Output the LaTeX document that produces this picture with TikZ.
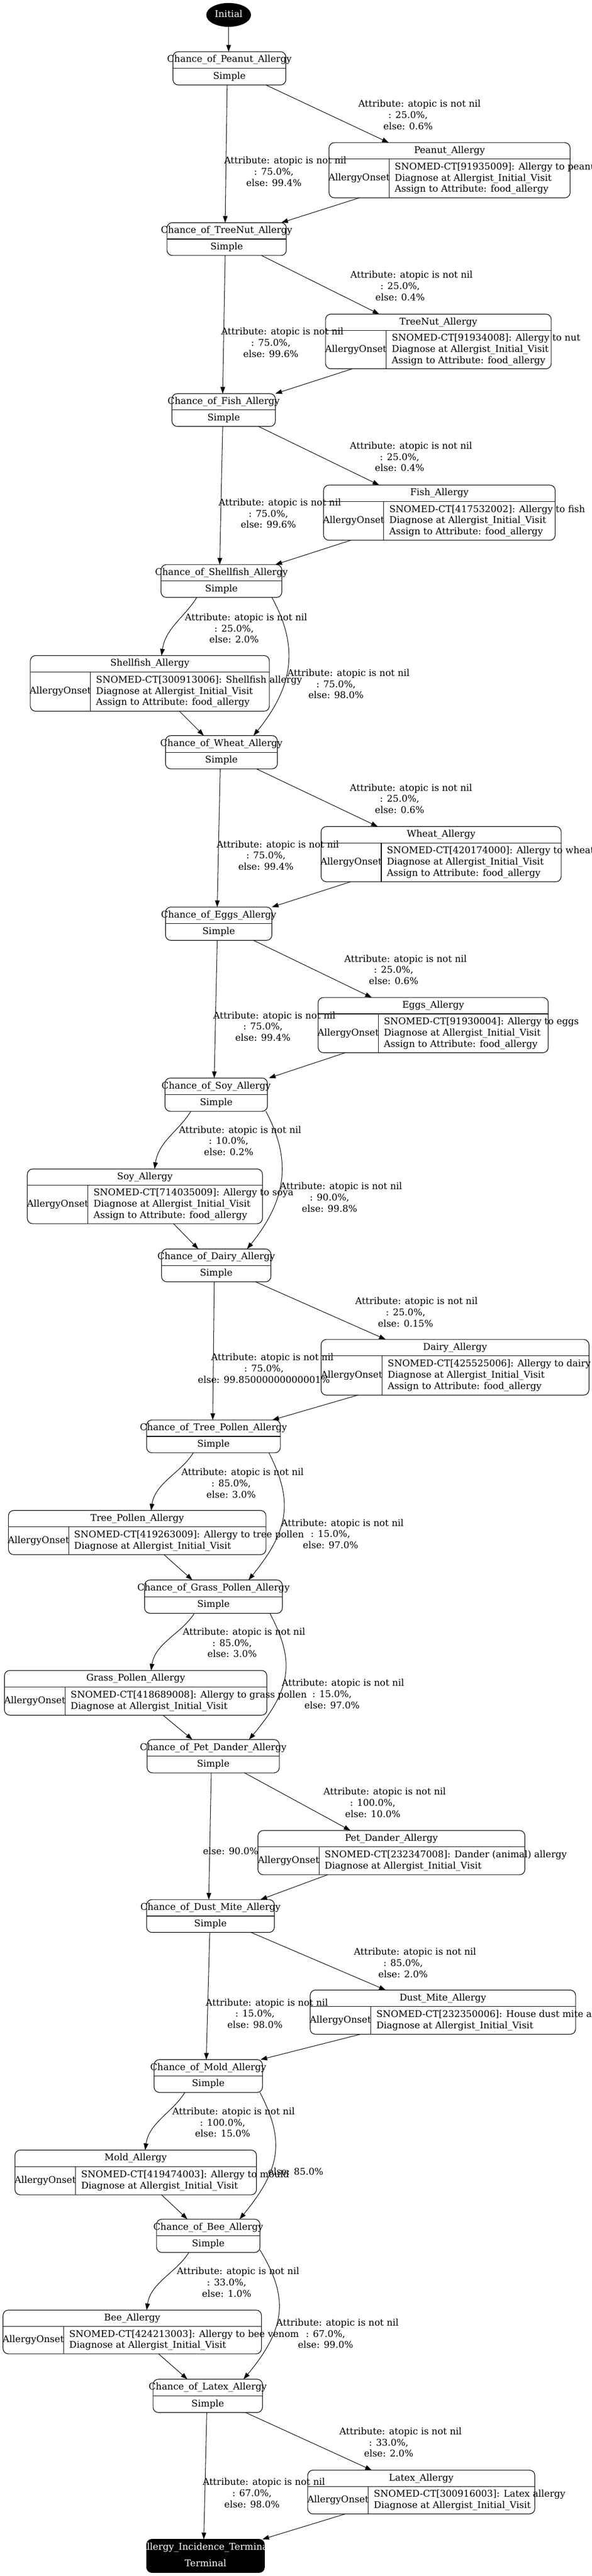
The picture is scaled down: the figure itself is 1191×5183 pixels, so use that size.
\documentclass[tikz,border=0pt]{standalone}
\usepackage{fontspec}
\setmainfont{DejaVu Serif}
\usetikzlibrary{arrows.meta,calc,fit,shapes.geometric}
\newcommand\fsz{\fontsize{14pt}{16.875pt}\selectfont}
\tikzset{
  box/.style={draw, line width=0.9pt, rounded corners=8pt, inner sep=0pt, outer sep=0pt},
  sepline/.style={line width=0.9pt},
  txt/.style={inner sep=0pt, font=\fsz, text height=10.5pt, text depth=3.5pt},
  wtxt/.style={txt, text=white},
  lbl/.style={inner sep=0pt, font=\fsz, align=center},
  bodytxt/.style={inner sep=0pt, font=\fsz, align=left, anchor=west},
  edge/.style={draw, line width=0.8pt, -{Triangle[length=10pt,width=7pt]}},
}
% name x1 y1 x2 y2 title
\newcommand\mkchance[6]{%
  \node[box, fit={(#2,#3)(#4,#5)}] (#1) {};
  \draw[sepline] (#1.west) -- (#1.east);
  \node[txt] (#1-t) at ($(#1.north)!0.25!(#1.south)$) {#6};
  \node[txt] (#1-s) at ($(#1.north)!0.75!(#1.south)$) {Simple};
}
% name x1 y1 x2 y2 xv title body
\newcommand\mkallergy[8]{%
  \node[box, fit={(#2,#3)(#4,#5)}] (#1) {};
  \draw[sepline] ($(#1.north west)+(0,33)$) -- ($(#1.north east)+(0,33)$);
  \draw[sepline] ($(#1.north west)+({#6-#2},33)$) -- ($(#1.south west)+({#6-#2},0)$);
  \node[txt] (#1-t) at ({(#2+#4)/2},{#3+16.5}) {#7};
  \node[txt] (#1-o) at ({(#2+#6)/2},{(#3+33+#5)/2}) {AllergyOnset};
  \node[bodytxt] (#1-b) at ({#6+11},{(#3+33+#5)/2}) {#8};
}
% name x y shift(pt) pct else
\newcommand\mklab[6]{%
  \node[lbl] (#1) at (#2,{#3+2}) {\hspace*{#4pt}Attribute: atopic is not nil\\: #5\%,\\else: #6\%};
}
% from-node dx to-node dx
\newcommand\ed[4]{\draw[edge] ($(#1.south west)+(#2,0)$) -- ($(#3.north west)+(#4,0)$);}
\newcommand\lcurve[4]{\draw[edge] ($(#1.south west)+(#2,0)$) .. controls +(-25,40) and +(8,-55) .. ($(#3.north west)+(#4,0)$);}
% from dx to dx c1x c2x
\newcommand\rcurve[6]{\draw[edge] ($(#1.south west)+(#2,0)$) .. controls +(#5,95) and +(#6,-103) .. ($(#3.north west)+(#4,0)$);}
\begin{document}
\begin{tikzpicture}[x=0.75pt,y=-0.75pt]
\fill[white] (0,0) rectangle (1191,5183);
\useasboundingbox (0,0) rectangle (1191,5183);

% initial
\node[ellipse, fill=black, minimum width=67.5pt, minimum height=36pt, inner sep=0pt] (init) at (460,30) {};
\node[wtxt] (init-t) at (init.center) {Initial};

% chance boxes
\mkchance{cPeanut}{348}{104}{575}{171}{Chance\_of\_Peanut\_Allergy}
\mkchance{cTreeNut}{336}{448}{576}{514}{Chance\_of\_TreeNut\_Allergy}
\mkchance{cFish}{346}{792}{554}{858}{Chance\_of\_Fish\_Allergy}
\mkchance{cShellfish}{324}{1136}{567}{1202}{Chance\_of\_Shellfish\_Allergy}
\mkchance{cWheat}{333}{1480}{558}{1547}{Chance\_of\_Wheat\_Allergy}
\mkchance{cEggs}{333}{1825}{547}{1892}{Chance\_of\_Eggs\_Allergy}
\mkchance{cSoy}{332}{2169}{538}{2236}{Chance\_of\_Soy\_Allergy}
\mkchance{cDairy}{325}{2513}{545}{2579}{Chance\_of\_Dairy\_Allergy}
\mkchance{cTreeP}{295}{2857}{564}{2923}{Chance\_of\_Tree\_Pollen\_Allergy}
\mkchance{cGrass}{291}{3179}{568}{3246}{Chance\_of\_Grass\_Pollen\_Allergy}
\mkchance{cPet}{296}{3500}{562}{3567}{Chance\_of\_Pet\_Dander\_Allergy}
\mkchance{cDust}{295}{3822}{552}{3888}{Chance\_of\_Dust\_Mite\_Allergy}
\mkchance{cMold}{310}{4144}{528}{4210}{Chance\_of\_Mold\_Allergy}
\mkchance{cBee}{315}{4465}{523}{4532}{Chance\_of\_Bee\_Allergy}
\mkchance{cLatex}{308}{4787}{528}{4854}{Chance\_of\_Latex\_Allergy}

% terminal
\node[box, fill=black, fit={(295,5109)(532,5176)}] (term) {};
\node[wtxt] (term-t) at ($(term.north)!0.25!(term.south)$) {Allergy\_Incidence\_Terminal};
\node[wtxt] (term-s) at ($(term.north)!0.75!(term.south)$) {Terminal};

% allergy boxes
\mkallergy{aPeanut}{662}{287}{1147}{398}{783}{Peanut\_Allergy}{SNOMED-CT[91935009]: Allergy to peanut\\Diagnose at Allergist\_Initial\_Visit\\Assign to Attribute: food\_allergy}
\mkallergy{aTreeNut}{655}{632}{1109}{742}{777}{TreeNut\_Allergy}{SNOMED-CT[91934008]: Allergy to nut\\Diagnose at Allergist\_Initial\_Visit\\Assign to Attribute: food\_allergy}
\mkallergy{aFish}{651}{976}{1117}{1087}{772}{Fish\_Allergy}{SNOMED-CT[417532002]: Allergy to fish\\Diagnose at Allergist\_Initial\_Visit\\Assign to Attribute: food\_allergy}
\mkallergy{aShellfish}{61}{1319}{542}{1431}{182}{Shellfish\_Allergy}{SNOMED-CT[300913006]: Shellfish allergy\\Diagnose at Allergist\_Initial\_Visit\\Assign to Attribute: food\_allergy}
\mkallergy{aWheat}{646}{1663}{1129}{1774}{767}{Wheat\_Allergy}{SNOMED-CT[420174000]: Allergy to wheat\\Diagnose at Allergist\_Initial\_Visit\\Assign to Attribute: food\_allergy}
\mkallergy{aEggs}{640}{2007}{1103}{2118}{761}{Eggs\_Allergy}{SNOMED-CT[91930004]: Allergy to eggs\\Diagnose at Allergist\_Initial\_Visit\\Assign to Attribute: food\_allergy}
\mkallergy{aSoy}{55}{2352}{528}{2462}{177}{Soy\_Allergy}{SNOMED-CT[714035009]: Allergy to soya\\Diagnose at Allergist\_Initial\_Visit\\Assign to Attribute: food\_allergy}
\mkallergy{aDairy}{646}{2695}{1185}{2807}{769}{Dairy\_Allergy}{SNOMED-CT[425525006]: Allergy to dairy\\Diagnose at Allergist\_Initial\_Visit\\Assign to Attribute: food\_allergy}
\mkallergy{aTreeP}{17}{3039}{535}{3128}{138}{Tree\_Pollen\_Allergy}{SNOMED-CT[419263009]: Allergy to tree pollen\\Diagnose at Allergist\_Initial\_Visit}
\mkallergy{aGrass}{9}{3361}{537}{3451}{131}{Grass\_Pollen\_Allergy}{SNOMED-CT[418689008]: Allergy to grass pollen\\Diagnose at Allergist\_Initial\_Visit}
\mkallergy{aPet}{519}{3683}{1056}{3772}{642}{Pet\_Dander\_Allergy}{SNOMED-CT[232347008]: Dander (animal) allergy\\Diagnose at Allergist\_Initial\_Visit}
\mkallergy{aDust}{624}{4004}{1158}{4093}{746}{Dust\_Mite\_Allergy}{SNOMED-CT[232350006]: House dust mite allergy\\Diagnose at Allergist\_Initial\_Visit}
\mkallergy{aMold}{30}{4326}{516}{4416}{152}{Mold\_Allergy}{SNOMED-CT[419474003]: Allergy to mould\\Diagnose at Allergist\_Initial\_Visit}
\mkallergy{aBee}{6}{4648}{526}{4736}{128}{Bee\_Allergy}{SNOMED-CT[424213003]: Allergy to bee venom\\Diagnose at Allergist\_Initial\_Visit}
\mkallergy{aLatex}{619}{4970}{1076}{5058}{741}{Latex\_Allergy}{SNOMED-CT[300916003]: Latex allergy\\Diagnose at Allergist\_Initial\_Visit}

% edges
\draw[edge] (init.south) -- (init.south |- cPeanut.north);
\ed{cPeanut}{109}{cTreeNut}{117}
\ed{cPeanut}{187}{aPeanut}{120}
\ed{aPeanut}{61}{cTreeNut}{230}
\ed{cTreeNut}{117}{cFish}{102}
\ed{cTreeNut}{190}{aTreeNut}{108}
\ed{aTreeNut}{54}{cFish}{208}
\ed{cFish}{102}{cShellfish}{118}
\ed{cFish}{174}{aFish}{112}
\ed{aFish}{55}{cShellfish}{230}
\lcurve{cShellfish}{72}{aShellfish}{264}
\rcurve{cShellfish}{223}{cWheat}{177}{52}{84}
\ed{aShellfish}{300}{cWheat}{77}
\ed{cWheat}{183}{aWheat}{114}
\ed{cWheat}{110}{cEggs}{104}
\ed{aWheat}{60}{cEggs}{214}
\ed{cEggs}{177}{aEggs}{108}
\ed{cEggs}{104}{cSoy}{99}
\ed{aEggs}{55}{cSoy}{209}
\lcurve{cSoy}{52}{aSoy}{256}
\rcurve{cSoy}{203}{cDairy}{172}{50}{83}
\ed{aSoy}{294}{cDairy}{74}
\ed{cDairy}{189}{aDairy}{130}
\ed{cDairy}{106}{cTreeP}{133}
\ed{aDairy}{74}{cTreeP}{253}
\lcurve{cTreeP}{94}{aTreeP}{287}
\rcurve{cTreeP}{246}{cGrass}{209}{48}{84}
\ed{aTreeP}{313}{cGrass}{96}
\lcurve{cGrass}{100}{aGrass}{295}
\rcurve{cGrass}{252}{cPet}{205}{50}{87}
\ed{aGrass}{319}{cPet}{91}
\ed{cPet}{196}{aPet}{186}
\ed{cPet}{129}{cDust}{125}
\ed{aPet}{140}{cDust}{229}
\ed{cDust}{210}{aDust}{152}
\ed{cDust}{127}{cMold}{105}
\ed{aDust}{101}{cMold}{214}
\lcurve{cMold}{62}{aMold}{262}
\rcurve{cMold}{213}{cBee}{167}{49}{85}
\ed{aMold}{295}{cBee}{62}
\lcurve{cBee}{65}{aBee}{289}
\draw[edge] ($(cBee.south east)+(0,-5)$) .. controls +(58,95) and +(86,-103) .. ($(cLatex.north west)+(182,0)$);
\ed{aBee}{313}{cLatex}{69}
\ed{cLatex}{186}{aLatex}{129}
\ed{cLatex}{108}{term}{115}
\ed{aLatex}{76}{term}{233}

% labels
\mklab{l1}{551}{343}{34.5}{75.0}{99.4}
\mklab{l2}{821}{229}{34.5}{25.0}{0.6}
\mklab{l3}{545}{687}{34.5}{75.0}{99.6}
\mklab{l4}{805}{573}{34.5}{25.0}{0.4}
\mklab{l5}{804}{917}{34.5}{25.0}{0.4}
\mklab{l6}{540}{1031}{34.5}{75.0}{99.6}
\mklab{l7}{471}{1262}{36}{25.0}{2.0}
\mklab{l8}{676}{1374}{37.5}{75.0}{98.0}
\mklab{l9}{804}{1605}{34.5}{25.0}{0.6}
\mklab{l10}{535}{1719}{36}{75.0}{99.4}
\mklab{l11}{792}{1949}{36}{25.0}{0.6}
\mklab{l12}{529}{2063}{34.5}{75.0}{99.4}
\mklab{l13}{460}{2293}{34.5}{10.0}{0.2}
\mklab{l14}{663}{2407}{34.5}{90.0}{99.8}
\mklab{l15}{816}{2638}{33}{25.0}{0.15}
\mklab{l16}{531}{2751}{25.5}{75.0}{99.85000000000001}
\mklab{l17}{465}{2982}{34.5}{85.0}{3.0}
\mklab{l18}{665}{3084}{36}{15.0}{97.0}
\mklab{l19}{467}{3303}{36}{85.0}{3.0}
\mklab{l20}{668}{3406}{33}{15.0}{97.0}
\node[txt] (l21) at (464,3727) {else: 90.0\%};
\mklab{l22}{750}{3625}{36}{100.0}{10.0}
\mklab{l23}{513}{4049}{36}{15.0}{98.0}
\mklab{l24}{811}{3947}{36}{85.0}{2.0}
\mklab{l25}{448}{4268}{33}{100.0}{15.0}
\node[txt] (l26) at (595,4371) {else: 85.0\%};
\mklab{l27}{456}{4590}{34.5}{33.0}{1.0}
\mklab{l28}{655}{4693}{36}{67.0}{99.0}
\mklab{l29}{507}{5014}{36}{67.0}{98.0}
\mklab{l30}{782}{4912}{36}{33.0}{2.0}
\end{tikzpicture}
\end{document}
